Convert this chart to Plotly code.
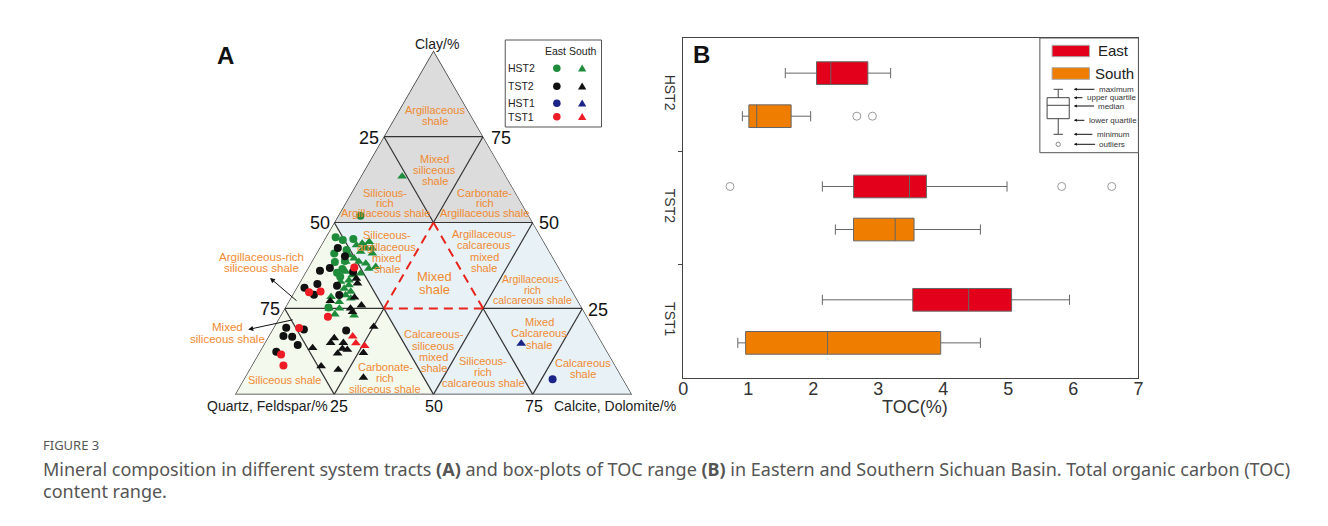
import plotly.graph_objects as go

# the page body has an 8px margin, so the figure is 8px smaller on each axis
PAGE_OFF = 8
W, H = 1328 - PAGE_OFF, 526 - PAGE_OFF


def X(px):
    return (px - PAGE_OFF) / W


def Y(py):
    return 1 - (py - PAGE_OFF) / H


# ---------------- Panel A data: clay / quartz+feldspar / calcite+dolomite (%) ----------------
hst2_east_clay = [52.0, 45.7, 44.9, 45.2, 42.0, 41.0, 38.5, 38.8, 36.5, 35.4, 34.2, 25.3]
hst2_east_quartz = [42.4, 51.8, 50.4, 47.6, 50.9, 54.5, 55.6, 52.9, 54.7, 56.6, 56.4, 63.8]
hst2_east_calc = [5.6, 2.5, 4.7, 7.2, 7.1, 4.5, 5.9, 8.3, 8.8, 8.0, 9.4, 10.9]

tst2_east_clay = [42.6, 40.2, 36.0, 36.8, 35.7, 31.0, 32.1, 29.0, 31.6, 28.9, 19.4, 18.9, 17.0, 16.8, 14.4, 12.4, 18.6]
tst2_east_quartz = [52.8, 52.2, 60.6, 57.7, 52.4, 67.0, 63.2, 65.6, 58.5, 59.3, 77.4, 73.2, 79.3, 77.2, 77.0, 83.4, 62.7]
tst2_east_calc = [4.6, 7.6, 3.4, 5.5, 11.9, 2.0, 4.7, 5.4, 9.9, 11.8, 3.2, 7.9, 3.7, 6.0, 8.6, 4.2, 18.7]

tst1_east_clay = [36.9, 29.7, 29.9, 22.6, 19.3, 11.6, 8.4]
tst1_east_quartz = [51.5, 66.5, 63.5, 65.3, 74.2, 82.6, 83.6]
tst1_east_calc = [11.6, 3.8, 6.6, 12.1, 6.5, 5.8, 8.0]

hst1_east_clay = [4.4]
hst1_east_quartz = [17.8]
hst1_east_calc = [77.8]

hst2_south_clay = [63.4, 43.4, 43.9, 44.4, 42.5, 41.5, 41.0, 40.5, 39.6, 38.6, 38.1, 36.6, 37.1, 35.7,
                   34.7, 35.2, 33.2, 32.8, 30.8, 29.9, 28.9, 28.4, 27.9, 26.9, 25.0, 25.0, 23.3, 23.0,
                   42.9, 42.5, 38.6, 31.8]
hst2_south_quartz = [26.2, 47.7, 46.0, 44.0, 46.2, 47.6, 44.9, 51.0, 50.2, 49.5, 48.0, 48.0, 46.0, 54.2,
                     53.1, 50.8, 54.7, 57.0, 57.1, 55.9, 57.7, 61.6, 56.9, 60.3, 63.8, 61.2, 63.2, 58.5,
                     45.7, 44.2, 52.8, 55.4]
hst2_south_calc = [10.4, 8.9, 10.1, 11.6, 11.3, 10.9, 14.1, 8.5, 10.2, 11.9, 13.9, 15.4, 16.9, 10.1,
                   12.2, 14.0, 12.1, 10.2, 12.1, 14.2, 13.4, 10.0, 15.2, 12.8, 11.2, 13.8, 13.5, 18.5,
                   11.4, 13.3, 8.6, 12.8]

tst2_south_clay = [33.7, 32.3, 28.2, 27.2, 25.9, 24.0, 19.7, 16.4, 15.0, 15.0, 13.3, 11.9, 13.0, 12.1, 13.5, 8.2, 7.2, 4.9, 25.0]
tst2_south_quartz = [52.6, 53.0, 55.8, 62.4, 55.2, 58.4, 55.2, 66.8, 68.4, 65.2, 66.3, 68.2, 65.2, 61.6, 73.7, 74.2, 70.4, 65.2, 58.4]
tst2_south_calc = [13.7, 14.7, 16.0, 10.4, 18.9, 17.6, 25.1, 16.8, 16.6, 19.8, 20.4, 19.9, 21.8, 26.3, 12.8, 17.6, 22.4, 29.9, 16.6]

tst1_south_clay = [16.9, 14.9, 14.1]
tst1_south_quartz = [61.9, 62.1, 60.3]
tst1_south_calc = [21.2, 23.0, 25.6]

hst1_south_clay = [14.8]
hst1_south_quartz = [20.5]
hst1_south_calc = [64.7]

# ---------------- Panel B data: TOC (%) box statistics ----------------
stages = ["HST2", "TST2", "TST1"]
east_min = [1.57, 2.14, 2.14]
east_q1 = [2.05, 2.62, 3.53]
east_median = [2.27, 3.48, 4.39]
east_q3 = [2.84, 3.74, 5.05]
east_max = [3.19, 4.98, 5.94]
south_min = [0.91, 2.34, 0.84]
south_q1 = [1.01, 2.62, 0.96]
south_median = [1.13, 3.26, 2.22]
south_q3 = [1.66, 3.55, 3.96]
south_max = [1.96, 4.57, 4.57]
east_outlier_stage = ["TST2", "TST2", "TST2"]
east_outlier_toc = [0.72, 5.82, 6.59]
south_outlier_stage = ["HST2", "HST2"]
south_outlier_toc = [2.67, 2.91]
x_ticks = [0, 1, 2, 3, 4, 5, 6, 7]

# ---------------- colours ----------------
C_GREEN = "#1f8c3b"
C_BLACK = "#111111"
C_NAVY = "#1c2587"
C_RED = "#ee1c24"
C_EAST = "#e2001a"
C_SOUTH = "#ef7d00"
C_LABEL = "#f08a30"
FONT = "Arial, Liberation Sans, sans-serif"

fig = go.Figure()

# ---------------- ternary classification regions ----------------
regions = [
    ("#dcdcdc", [100, 50, 50], [0, 50, 0], [0, 0, 50]),
    ("#f4f9ee", [50, 0, 0], [50, 100, 50], [0, 0, 50]),
    ("#e8f1f6", [50, 0, 0, 50], [50, 50, 0, 0], [0, 50, 100, 50]),
]
for col, ra, rb, rc in regions:
    fig.add_trace(go.Scatterternary(a=ra, b=rb, c=rc, mode="lines", fill="toself",
                                    fillcolor=col, line=dict(width=0), hoverinfo="skip"))

solid_segments = [
    ((100, 0, 0), (0, 100, 0)), ((0, 100, 0), (0, 0, 100)), ((0, 0, 100), (100, 0, 0)),
    ((75, 25, 0), (75, 0, 25)), ((50, 50, 0), (50, 0, 50)),
    ((25, 75, 0), (25, 50, 25)), ((25, 25, 50), (25, 0, 75)),
    ((75, 25, 0), (50, 25, 25)), ((25, 25, 50), (0, 25, 75)),
    ((50, 50, 0), (0, 50, 50)), ((25, 75, 0), (0, 75, 25)),
    ((75, 0, 25), (50, 25, 25)), ((25, 50, 25), (0, 75, 25)),
    ((50, 0, 50), (0, 50, 50)), ((25, 0, 75), (0, 25, 75)),
]
dashed_segments = [
    ((50, 25, 25), (25, 50, 25)), ((25, 50, 25), (25, 25, 50)), ((25, 25, 50), (50, 25, 25)),
]


def seg_arrays(segs):
    a, b, c = [], [], []
    for p, q in segs:
        a += [p[0], q[0], None]
        b += [p[1], q[1], None]
        c += [p[2], q[2], None]
    return a, b, c


sa, sb, sc = seg_arrays(solid_segments)
fig.add_trace(go.Scatterternary(a=sa, b=sb, c=sc, mode="lines",
                                line=dict(color="#333333", width=1.2), hoverinfo="skip"))
da, db, dc = seg_arrays(dashed_segments)
fig.add_trace(go.Scatterternary(a=da, b=db, c=dc, mode="lines",
                                line=dict(color="#e8241c", width=2, dash="9px,6px"), hoverinfo="skip"))

# ---------------- ternary points ----------------
point_sets = [
    (hst2_south_clay, hst2_south_quartz, hst2_south_calc, C_GREEN, "triangle-up"),
    (hst2_east_clay, hst2_east_quartz, hst2_east_calc, C_GREEN, "circle"),
    (tst2_east_clay, tst2_east_quartz, tst2_east_calc, C_BLACK, "circle"),
    (tst2_south_clay, tst2_south_quartz, tst2_south_calc, C_BLACK, "triangle-up"),
    (tst1_east_clay, tst1_east_quartz, tst1_east_calc, C_RED, "circle"),
    (tst1_south_clay, tst1_south_quartz, tst1_south_calc, C_RED, "triangle-up"),
    (hst1_east_clay, hst1_east_quartz, hst1_east_calc, C_NAVY, "circle"),
    (hst1_south_clay, hst1_south_quartz, hst1_south_calc, C_NAVY, "triangle-up"),
]
for pa, pb, pc, col, sym in point_sets:
    fig.add_trace(go.Scatterternary(a=pa, b=pb, c=pc, mode="markers",
                                    marker=dict(color=col, symbol=sym, size=8 if sym == "circle" else 8.5)))

# ---------------- box plots ----------------
center = {s: 2.5 - i for i, s in enumerate(stages)}
OFF = 0.19
for mins, q1s, meds, q3s, maxs, col, sign in [
    (east_min, east_q1, east_median, east_q3, east_max, C_EAST, 1),
    (south_min, south_q1, south_median, south_q3, south_max, C_SOUTH, -1),
]:
    fig.add_trace(go.Box(orientation="h", y=[center[s] + sign * OFF for s in stages],
                         q1=q1s, median=meds, q3=q3s, lowerfence=mins, upperfence=maxs,
                         width=0.2, whiskerwidth=0.45, fillcolor=col, boxpoints=False,
                         line=dict(color="#666666", width=1), xaxis="x", yaxis="y"))

for stg, vals, sign in [(east_outlier_stage, east_outlier_toc, 1), (south_outlier_stage, south_outlier_toc, -1)]:
    fig.add_trace(go.Scatter(x=vals, y=[center[s] + sign * OFF for s in stg], mode="markers",
                             marker=dict(symbol="circle-open", size=8, color="#9a9a9a", line=dict(width=1)),
                             xaxis="x", yaxis="y"))

# ---------------- annotations ----------------
ann = []
shapes = []


def txt(t, x, y, size=11, color=C_LABEL, anchor="center", family=FONT):
    ann.append(dict(text=t, x=X(x), y=Y(y), xref="paper", yref="paper", showarrow=False,
                    xanchor=anchor, yanchor="middle", borderpad=0,
                    font=dict(size=size, color=color, family=family)))


def block(lines, x, ys, size=11, color=C_LABEL):
    for t, yy in zip(lines, ys):
        txt(t, x, yy, size=size, color=color)


def arrow(hx, hy, tx, ty, size=1.0, width=1.0, head=2):
    ann.append(dict(text="", x=X(hx), y=Y(hy), xref="paper", yref="paper", showarrow=True,
                    ax=tx - hx, ay=ty - hy, arrowhead=head, arrowsize=size, arrowwidth=width,
                    arrowcolor="#111111"))


# panel letters
txt("<b>A</b>", 222, 55, size=24, color="#111111")
txt("<b>B</b>", 702, 54, size=24, color="#111111")

# ternary axis titles and scale labels
txt("Clay/%", 435, 44, size=14, color="#222222")
txt("Quartz, Feldspar/%", 326, 406, size=14, color="#222222", anchor="right")
txt("Calcite, Dolomite/%", 552, 406, size=14, color="#222222", anchor="left")
for t, x, y, s in [("25", 367, 138, 18), ("75", 500, 138, 18), ("50", 317, 223, 18), ("50", 548, 223, 18),
                   ("75", 267, 309, 18), ("25", 597, 310, 18),
                   ("25", 336, 406, 16), ("50", 432, 406, 16), ("75", 533, 406, 16)]:
    txt(t, x, y, size=s, color="#111111")

# classification labels
block(["Argillaceous", "shale"], 433, [110, 121])
block(["Mixed", "siliceous", "shale"], 433, [158.5, 170, 181])
block(["Silicious-", "rich", "Argillaceous shale"], 383, [192.5, 203, 213.5])
block(["Carbonate-", "rich", "Argillaceous shale"], 483.5, [192.5, 203, 213.5])
block(["Siliceous-", "argillaceous", "mixed", "shale"], 384.5, [235, 246.5, 257.5, 268.5])
block(["Mixed", "shale"], 433, [276, 289.5], size=13)
block(["Argillaceous-", "calcareous", "mixed", "shale"], 482.7, [233.5, 245, 256.5, 267.5])
block(["Argillaceous-", "rich", "calcareous shale"], 531.7, [279, 289.5, 299.5], size=10.5)
block(["Argillaceous-rich", "siliceous shale"], 258.3, [256.7, 268.3], size=11.5)
block(["Mixed", "siliceous shale"], 224, [327.3, 338.5], size=11.5)
block(["Siliceous shale"], 281.7, [380])
block(["Carbonate-", "rich", "siliceous shale"], 383, [366.7, 378.3, 389.3])
block(["Calcareous-", "siliceous", "mixed", "shale"], 432, [334.3, 345.7, 357, 368.3])
block(["Siliceous-", "rich", "calcareous shale"], 481.7, [360.7, 372.3, 383.3])
block(["Mixed", "Calcareous", "shale"], 538.3, [321.7, 333.3, 345])
block(["Calcareous", "shale"], 582.5, [363.3, 374.3])
arrow(267, 278, 295, 302)
arrow(245, 329.5, 291, 319.5)

# legend of panel A
shapes.append(dict(type="rect", xref="paper", yref="paper", x0=X(504), x1=X(601), y0=Y(127), y1=Y(40),
                   line=dict(color="#555555", width=1), fillcolor="white"))
txt("East", 555, 50.5, size=10.5, color="#222222")
txt("South", 582.5, 50.5, size=10.5, color="#222222")
for name, yy, col in [("HST2", 68.3, C_GREEN), ("TST2", 86.3, C_BLACK), ("HST1", 103.3, C_NAVY), ("TST1", 116.8, C_RED)]:
    txt(name, 505.5, yy, size=10.5, color="#222222", anchor="left")
    r = 3.8
    shapes.append(dict(type="circle", xref="paper", yref="paper", x0=X(556 - r), x1=X(556 + r),
                       y0=Y(yy + r), y1=Y(yy - r), fillcolor=col, line=dict(width=0)))
    cx = 581.5
    shapes.append(dict(type="path", xref="paper", yref="paper",
                       path=f"M {X(cx - 4.2)},{Y(yy + 3.3)} L {X(cx + 4.2)},{Y(yy + 3.3)} L {X(cx)},{Y(yy - 3.8)} Z",
                       fillcolor=col, line=dict(width=0)))

# legend of panel B
shapes.append(dict(type="rect", xref="paper", yref="paper", x0=X(1042.7), x1=X(1142), y0=Y(152.7), y1=Y(38),
                   line=dict(color="#555555", width=1), fillcolor="white"))
shapes.append(dict(type="rect", xref="paper", yref="paper", x0=X(1055), x1=X(1092.7), y0=Y(56.7), y1=Y(45.3),
                   line=dict(color="#aaaaaa", width=1), fillcolor=C_EAST))
shapes.append(dict(type="rect", xref="paper", yref="paper", x0=X(1055), x1=X(1092.7), y0=Y(79.3), y1=Y(67.7),
                   line=dict(color="#aaaaaa", width=1), fillcolor=C_SOUTH))
txt("East", 1117, 51, size=15, color="#222222")
txt("South", 1118, 73.7, size=15, color="#222222")
bx0, bx1, bxc = 1050, 1072.3, 1061.2
for x0, y0, x1, y1 in [(bxc, 89.3, bxc, 97.7), (1056.5, 89.3, 1066, 89.3), (bx0, 105.3, bx1, 105.3),
                       (bxc, 118.7, bxc, 134.3), (1056.5, 134.3, 1066, 134.3)]:
    shapes.append(dict(type="line", xref="paper", yref="paper", x0=X(x0), x1=X(x1), y0=Y(y0), y1=Y(y1),
                       line=dict(color="#444444", width=1)))
shapes.append(dict(type="rect", xref="paper", yref="paper", x0=X(bx0), x1=X(bx1), y0=Y(118.7), y1=Y(97.7),
                   line=dict(color="#444444", width=1), fillcolor="rgba(0,0,0,0)"))
shapes.append(dict(type="circle", xref="paper", yref="paper", x0=X(1059), x1=X(1063.4), y0=Y(146.5), y1=Y(142.1),
                   line=dict(color="#888888", width=1)))
for label, yy, left in [("maximum", 89.3, 1101), ("upper quartile", 97.7, 1089), ("median", 106, 1100.7),
                        ("lower quartile", 120.3, 1091), ("minimum", 134.3, 1099), ("outliers", 144.3, 1101.7)]:
    txt(label, left, yy, size=8, color="#333333", anchor="left")
    arrow(1077, yy, left - 2, yy, size=0.6, width=1, head=2)

# x-axis title of panel B
txt("TOC(%)", 916.7, 407, size=18, color="#333333")

# caption
CAP = "Noto Sans, Open Sans, sans-serif"
txt("FIGURE 3", 37, 445, size=13, color="#555555", anchor="left", family=CAP)
txt("Mineral composition in different system tracts <b>(A)</b> and box-plots of TOC range <b>(B)</b> in Eastern "
    "and Southern Sichuan Basin. Total organic carbon (TOC)", 37, 469, size=18, color="#555555",
    anchor="left", family=CAP)
txt("content range.", 37, 491, size=18, color="#555555", anchor="left", family=CAP)

tern_axis = dict(showline=False, showgrid=False, showticklabels=False, ticks="", title=dict(text=""), min=0)

fig.update_layout(
    width=W, height=H, margin=dict(l=0, r=0, t=0, b=0),
    paper_bgcolor="white", plot_bgcolor="rgba(0,0,0,0)",
    showlegend=False, font=dict(family=FONT),
    boxmode="overlay",
    ternary=dict(domain=dict(x=[X(231.7), X(631.7)], y=[Y(395.7), Y(49.3)]), sum=100,
                 bgcolor="rgba(0,0,0,0)", aaxis=tern_axis, baxis=tern_axis, caxis=tern_axis),
    xaxis=dict(domain=[X(683.3), X(1142)], range=[0, 7], tickvals=x_ticks, ticks="", ticklen=0,
               ticklabelstandoff=-6,
               showline=True, mirror=True, linecolor="#444444", linewidth=1, showgrid=False, zeroline=False,
               tickfont=dict(size=18, color="#333333")),
    yaxis=dict(domain=[Y(378), Y(38)], range=[0, 3], tickmode="array", tickvals=[center[s] for s in stages],
               ticktext=stages, tickangle=90, ticks="", showline=True, mirror=True, linecolor="#444444",
               linewidth=1, showgrid=False, zeroline=False, tickfont=dict(size=14, color="#333333"),
               minor=dict(tickmode="array", tickvals=[1, 2], ticks="outside", ticklen=4,
                          tickcolor="#444444", showgrid=False)),
    annotations=ann, shapes=shapes,
)

fig.write_html("out.html")
